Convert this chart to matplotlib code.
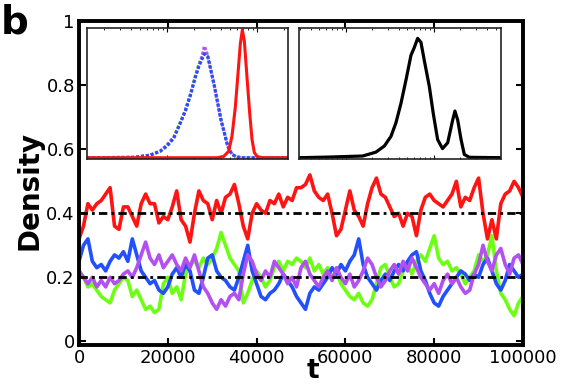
import numpy as np
import matplotlib
matplotlib.use('Agg')
import matplotlib.pyplot as plt

plt.rcParams['font.family'] = ['DejaVu Sans']

# time axis of the trajectories (one reading every 1000 steps)
t = np.arange(0, 100001, 1000)

red = [0.32, 0.36, 0.43, 0.41, 0.43, 0.44, 0.46, 0.48, 0.36, 0.35,
       0.42, 0.42, 0.39, 0.36, 0.43, 0.46, 0.43, 0.43, 0.37, 0.39,
       0.38, 0.42, 0.47, 0.38, 0.36, 0.31, 0.40, 0.47, 0.44, 0.43,
       0.38, 0.44, 0.40, 0.45, 0.46, 0.49, 0.43, 0.36, 0.32, 0.40,
       0.43, 0.41, 0.40, 0.44, 0.43, 0.46, 0.42, 0.45, 0.44, 0.48,
       0.48, 0.49, 0.52, 0.47, 0.45, 0.44, 0.46, 0.40, 0.33, 0.35,
       0.41, 0.47, 0.41, 0.39, 0.36, 0.43, 0.48, 0.51, 0.46, 0.45,
       0.42, 0.39, 0.40, 0.36, 0.40, 0.39, 0.33, 0.41, 0.45, 0.46,
       0.44, 0.43, 0.42, 0.44, 0.46, 0.50, 0.42, 0.45, 0.44, 0.48,
       0.51, 0.40, 0.32, 0.38, 0.32, 0.43, 0.46, 0.47, 0.50, 0.48, 0.45]

blue = [0.25, 0.30, 0.32, 0.25, 0.23, 0.24, 0.22, 0.25, 0.27, 0.26,
        0.28, 0.25, 0.32, 0.27, 0.22, 0.20, 0.18, 0.19, 0.16, 0.15,
        0.17, 0.21, 0.23, 0.20, 0.24, 0.22, 0.16, 0.15, 0.20, 0.26,
        0.27, 0.22, 0.20, 0.19, 0.17, 0.16, 0.20, 0.25, 0.30, 0.22,
        0.18, 0.14, 0.13, 0.15, 0.16, 0.18, 0.21, 0.19, 0.17, 0.14,
        0.12, 0.10, 0.15, 0.17, 0.16, 0.18, 0.20, 0.23, 0.21, 0.24,
        0.22, 0.25, 0.27, 0.32, 0.24, 0.20, 0.18, 0.16, 0.19, 0.21,
        0.19, 0.22, 0.24, 0.22, 0.25, 0.27, 0.28, 0.22, 0.19, 0.15,
        0.12, 0.11, 0.14, 0.16, 0.18, 0.20, 0.22, 0.21, 0.19, 0.21,
        0.20, 0.24, 0.26, 0.22, 0.18, 0.16, 0.19, 0.24, 0.22, 0.20, 0.21]

green = [0.22, 0.20, 0.17, 0.18, 0.16, 0.14, 0.13, 0.12, 0.16, 0.18,
         0.20, 0.19, 0.14, 0.16, 0.13, 0.10, 0.11, 0.09, 0.10, 0.18,
         0.20, 0.15, 0.17, 0.13, 0.21, 0.24, 0.25, 0.23, 0.26, 0.24,
         0.26, 0.29, 0.34, 0.30, 0.26, 0.24, 0.22, 0.12, 0.15, 0.19,
         0.22, 0.20, 0.17, 0.19, 0.23, 0.25, 0.22, 0.25, 0.24, 0.26,
         0.25, 0.23, 0.26, 0.22, 0.24, 0.21, 0.23, 0.20, 0.22, 0.18,
         0.16, 0.14, 0.13, 0.15, 0.12, 0.11, 0.13, 0.18, 0.23, 0.24,
         0.20, 0.17, 0.18, 0.22, 0.24, 0.21, 0.25, 0.27, 0.25, 0.29,
         0.33, 0.26, 0.24, 0.25, 0.22, 0.23, 0.21, 0.18, 0.20, 0.22,
         0.27, 0.25, 0.27, 0.33, 0.22, 0.15, 0.13, 0.10, 0.08, 0.12, 0.14]

purple = [0.22, 0.20, 0.18, 0.20, 0.17, 0.19, 0.17, 0.20, 0.18, 0.19,
          0.21, 0.22, 0.20, 0.23, 0.27, 0.31, 0.26, 0.24, 0.27, 0.23,
          0.25, 0.27, 0.24, 0.22, 0.26, 0.23, 0.27, 0.22, 0.17, 0.15,
          0.12, 0.10, 0.13, 0.11, 0.14, 0.15, 0.13, 0.21, 0.27, 0.25,
          0.21, 0.19, 0.22, 0.20, 0.25, 0.23, 0.21, 0.18, 0.20, 0.17,
          0.23, 0.25, 0.21, 0.19, 0.17, 0.20, 0.22, 0.19, 0.23, 0.20,
          0.18, 0.21, 0.17, 0.19, 0.22, 0.26, 0.24, 0.20, 0.17, 0.19,
          0.22, 0.24, 0.21, 0.25, 0.22, 0.26, 0.23, 0.20, 0.18, 0.16,
          0.18, 0.15, 0.19, 0.21, 0.18, 0.20, 0.17, 0.15, 0.16, 0.21,
          0.24, 0.30, 0.25, 0.22, 0.27, 0.29, 0.24, 0.21, 0.26, 0.27, 0.24]

ref_levels = [0.4, 0.2]

# left inset: distributions (log x)
hist_x = [1.3, 4.3, 6.5, 8.4, 10, 11.9, 14.1, 16.0, 18.2, 20.6, 22.5, 24.5,
          26.0, 28.3, 30.8, 33.6, 36.6, 39.8, 43.4, 47.2, 52.7, 60, 71, 220]
green_h = [0, 0.003, 0.02, 0.05, 0.09, 0.16, 0.28, 0.36, 0.49, 0.63, 0.72, 0.78,
           0.82, 0.79, 0.68, 0.56, 0.43, 0.30, 0.19, 0.09, 0.025, 0.005, 0, 0]
blue_h = [0, 0.003, 0.02, 0.05, 0.09, 0.15, 0.27, 0.36, 0.48, 0.62, 0.70, 0.76,
          0.80, 0.78, 0.67, 0.55, 0.42, 0.29, 0.19, 0.09, 0.025, 0.005, 0, 0]
purple_h = [0, 0.003, 0.02, 0.05, 0.10, 0.16, 0.27, 0.37, 0.49, 0.62, 0.71, 0.78,
            0.86, 0.79, 0.67, 0.55, 0.42, 0.29, 0.19, 0.09, 0.025, 0.005, 0, 0]
red_x = [1.3, 35.9, 42.7, 48.5, 52.8, 57.4, 61.5, 65.3, 68.7, 72.3, 77.4, 83.0,
         88.0, 93.4, 100, 113.7, 220]
red_h = [0, 0, 0.01, 0.05, 0.17, 0.39, 0.65, 0.88, 0.985, 0.90, 0.62, 0.34,
         0.14, 0.04, 0.01, 0, 0]

# right inset: bimodal curve (log x)
black_x = [2.93, 6.47, 15.5, 21.9, 27.3, 32.5, 37.0, 42.2, 48.1, 54.8, 59.8, 65.2,
           71.1, 77.6, 88.5, 98.2, 110, 125, 143, 163, 173, 186, 203, 221, 252, 577]
black_h = [0, 0.005, 0.013, 0.043, 0.09, 0.165, 0.27, 0.42, 0.60, 0.79, 0.85, 0.92,
           0.89, 0.75, 0.55, 0.34, 0.14, 0.07, 0.115, 0.29, 0.36, 0.29, 0.14, 0.025,
           0.003, 0]

c_red = '#ff1414'
c_green = '#6cff12'
c_blue = '#2350ff'
c_purple = '#b350f0'

fig = plt.figure(figsize=(5.71, 3.86), dpi=100)
ax = fig.add_axes([0.1384, 0.1075, 0.7775, 0.8373])

ax.plot(t, green, color=c_green, lw=2.6)
ax.plot(t, blue, color=c_blue, lw=2.6)
ax.plot(t, purple, color=c_purple, lw=2.6)
ax.plot(t, red, color=c_red, lw=2.6)
for lev in ref_levels:
    ax.axhline(lev, color='black', lw=2, dashes=[3, 1.5, 1, 1.5])

ax.set_xlim(0, 100000)
ax.set_ylim(-0.01, 1)
ax.set_xticks([0, 20000, 40000, 60000, 80000, 100000])
ax.set_xticklabels(['0', '20000', '40000', '60000', '80000', '100000'])
ax.set_yticks([0, 0.2, 0.4, 0.6, 0.8, 1])
ax.set_yticklabels(['0', '0.2', '0.4', '0.6', '0.8', '1'])
ax.tick_params(direction='in', length=5, width=1.5, top=True, right=True,
               labelsize=13, pad=3)
for s in ax.spines.values():
    s.set_linewidth(2.8)

fig.text(313 / 571, 1 - 371 / 386, 't', fontsize=19, fontweight='bold',
         ha='center', va='center')
fig.text(30 / 571, 1 - 190 / 386, 'Density', fontsize=20, fontweight='bold',
         rotation=90, ha='center', va='center')
fig.text(0.002, 1 - 23 / 386, 'b', fontsize=28, fontweight='bold',
         ha='left', va='center')

# insets
ins1 = fig.add_axes([87 / 571, 1 - 159 / 386, 201 / 571, 131 / 386])
ins1.plot(hist_x, green_h, color=c_green, lw=2.2, dashes=[1, 0.6])
ins1.plot(hist_x, purple_h, color=c_purple, lw=2.2, dashes=[1, 0.6])
ins1.plot(hist_x, blue_h, color=c_blue, lw=2.2, dashes=[1, 0.6])
ins1.plot(red_x, red_h, color=c_red, lw=2.2)
ins1.set_xscale('log')
ins1.set_xlim(1.29, 221)

ins2 = fig.add_axes([299 / 571, 1 - 159 / 386, 202 / 571, 131 / 386])
ins2.plot(black_x, black_h, color='black', lw=2.3)
ins2.set_xscale('log')
ins2.set_xlim(2.93, 577)

for a in (ins1, ins2):
    a.set_ylim(-0.01, 1.0)
    a.set_yticks([])
    a.tick_params(axis='x', which='both', direction='in', top=True,
                  labelbottom=False)
    a.tick_params(axis='x', which='major', length=3, width=0.8)
    a.tick_params(axis='x', which='minor', length=1.5, width=0.6)
    for s in a.spines.values():
        s.set_linewidth(1.2)
        s.set_color('#222222')

fig.savefig('out.png', dpi=100)
